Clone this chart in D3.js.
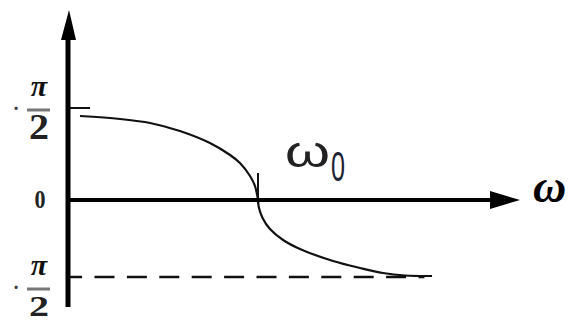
<!DOCTYPE html>
<html lang="en">
<head>
    <meta charset="UTF-8">
    <title>Phase curve</title>
    <script src="https://d3js.org/d3.v7.min.js"></script>
    <style>
        body { margin: 0; background: #fff; }
        .serif { font-family: "Liberation Serif", "DejaVu Serif", serif; }
    </style>
</head>
<body>

<script>
    var width = 568;
    var height = 321;
    var HALF_PI = Math.PI / 2;

    // curve: omega in units of omega0, phase in radians
    var omega = [0.063, 0.274, 0.432, 0.589, 0.747, 0.853, 0.905, 0.958, 0.984, 1.0,
                 1.004, 1.024, 1.063, 1.132, 1.221, 1.395, 1.537, 1.658, 1.774, 1.916];
    var phase = [1.434, 1.383, 1.315, 1.178, 0.973, 0.768, 0.632, 0.410, 0.239, 0,
                 -0.143, -0.367, -0.592, -0.816, -1.000, -1.244, -1.387, -1.489, -1.540, -1.550];
    var yTicks = [HALF_PI, 0, -HALF_PI];
    var yTickLabels = [["·", "π", "2"], [null, "0", null], ["·", "π", "2"]];
    var omega0 = 1;
    var dashEnd = 1.876;

    var svg = d3.select("body").append("svg")
        .attr("width", width)
        .attr("height", height);

    var x = d3.scaleLinear().domain([0, 1]).range([68, 258]);
    var y = d3.scaleLinear().domain([-HALF_PI, 0, HALF_PI]).range([277, 200, 108]);

    // asymptote -pi/2
    svg.append("line")
        .attr("x1", x(0.011)).attr("x2", x(dashEnd))
        .attr("y1", y(-HALF_PI)).attr("y2", y(-HALF_PI))
        .attr("stroke", "#111")
        .attr("stroke-width", 2.6)
        .attr("stroke-dasharray", "20,12.4")
        .attr("stroke-dashoffset", 8);

    // pi/2 tick
    svg.append("line")
        .attr("x1", x(0)).attr("x2", x(0.116))
        .attr("y1", y(HALF_PI)).attr("y2", y(HALF_PI))
        .attr("stroke", "#111").attr("stroke-width", 2);

    // omega0 tick
    svg.append("line")
        .attr("x1", x(omega0)).attr("x2", x(omega0))
        .attr("y1", y(0) - 27).attr("y2", y(0) + 4)
        .attr("stroke", "#111").attr("stroke-width", 2);

    // curve
    var line = d3.line()
        .x(function(d, i) { return x(omega[i]); })
        .y(function(d, i) { return y(phase[i]); })
        .curve(d3.curveCatmullRom.alpha(0.5));
    svg.append("path")
        .attr("d", line(omega))
        .attr("fill", "none")
        .attr("stroke", "#111")
        .attr("stroke-width", 2.2);

    // axes
    var x0 = x(0), y0 = y(0);
    svg.append("line")
        .attr("x1", x0).attr("x2", x0)
        .attr("y1", 307).attr("y2", 30)
        .attr("stroke", "#000").attr("stroke-width", 5);
    svg.append("path")
        .attr("d", "M" + (x0 + 1) + ",10 L" + (x0 + 8) + ",40 L" + (x0 - 7) + ",40 Z")
        .attr("fill", "#000");
    svg.append("line")
        .attr("x1", x0).attr("x2", 500)
        .attr("y1", y0).attr("y2", y0)
        .attr("stroke", "#000").attr("stroke-width", 4);
    svg.append("path")
        .attr("d", "M520," + y0 + " L490," + (y0 - 9) + " L490," + (y0 + 9) + " Z")
        .attr("fill", "#000");

    // y labels
    yTicks.forEach(function(v, i) {
        var lab = yTickLabels[i];
        var cy = y(v) + (i === 2 ? 12 : 2);
        if (lab[2] === null) {
            svg.append("text")
                .attr("class", "serif")
                .attr("x", 40).attr("y", y(v) + 8)
                .attr("text-anchor", "middle")
                .attr("font-weight", "bold")
                .attr("font-size", 25)
                .attr("textLength", 11).attr("lengthAdjust", "spacingAndGlyphs")
                .attr("fill", "#222")
                .text(lab[1]);
            return;
        }
        svg.append("text")
            .attr("class", "serif")
            .attr("x", 16).attr("y", cy + 5)
            .attr("text-anchor", "middle")
            .attr("font-weight", "bold")
            .attr("font-size", 20)
            .attr("fill", "#444")
            .text(lab[0]);
        svg.append("text")
            .attr("class", "serif")
            .attr("x", 39).attr("y", cy - 14)
            .attr("text-anchor", "middle")
            .attr("font-weight", "bold")
            .attr("font-style", "italic")
            .attr("font-size", 30)
            .attr("fill", "#111")
            .text(lab[1]);
        svg.append("line")
            .attr("x1", 27).attr("x2", 50)
            .attr("y1", cy).attr("y2", cy)
            .attr("stroke", "#777").attr("stroke-width", 3);
        svg.append("text")
            .attr("class", "serif")
            .attr("x", 39).attr("y", cy + (i === 2 ? 27 : 29))
            .attr("text-anchor", "middle")
            .attr("font-weight", "bold")
            .attr("font-size", i === 2 ? 30 : 36)
            .attr("textLength", 20).attr("lengthAdjust", "spacingAndGlyphs")
            .attr("fill", "#222")
            .text(lab[2]);
    });

    // omega0 label
    svg.append("text")
        .attr("x", 285).attr("y", 167)
        .attr("font-family", "Liberation Sans")
        .attr("font-size", 44)
        .attr("textLength", 45).attr("lengthAdjust", "spacingAndGlyphs")
        .attr("fill", "#222")
        .text("ω");
    svg.append("text")
        .attr("x", 331).attr("y", 181)
        .attr("font-family", "Liberation Sans")
        .attr("font-size", 42)
        .attr("textLength", 14).attr("lengthAdjust", "spacingAndGlyphs")
        .attr("fill", "#1c2233")
        .text("0");

    // axis label
    svg.append("text")
        .attr("class", "serif")
        .attr("x", 533).attr("y", 202)
        .attr("font-weight", "bold")
        .attr("font-style", "italic")
        .attr("font-size", 46)
        .attr("fill", "#000")
        .text("ω");
</script>
</body>
</html>
